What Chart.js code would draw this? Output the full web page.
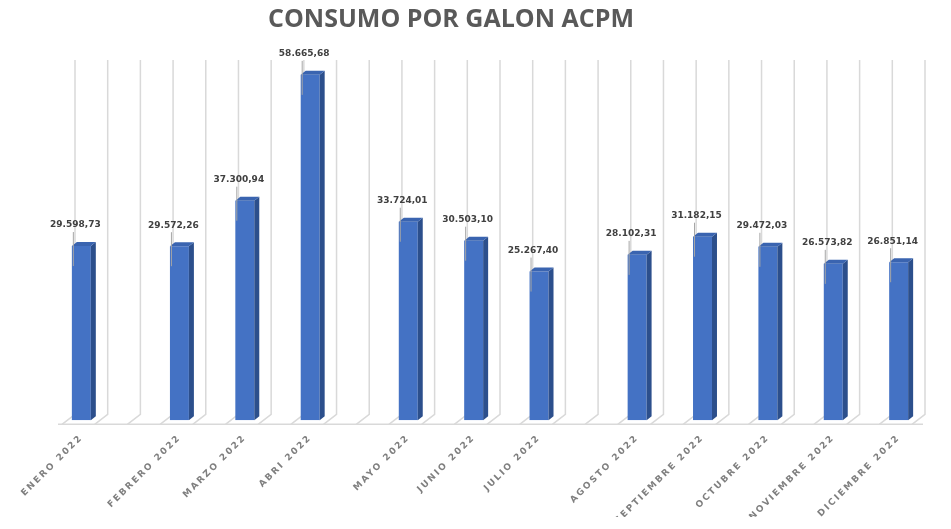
<!DOCTYPE html>
<html>
<head>
<meta charset="utf-8">
<title>Consumo por galon ACPM</title>
<script src="https://cdn.jsdelivr.net/npm/chart.js@4.4.1/dist/chart.umd.min.js"></script>
<style>
  html, body { margin: 0; padding: 0; background: #ffffff; }
  #chart { display: block; }
</style>
</head>
<body>
<canvas id="chart" width="951" height="529"></canvas>
<script>
const chartTitle = "CONSUMO POR GALON ACPM";

// blank slots are the empty rows of the source sheet
const months = [
  "ENERO 2022", "", "", "FEBRERO 2022", "", "MARZO 2022", "", "ABRI 2022", "", "",
  "MAYO 2022", "", "JUNIO 2022", "", "JULIO 2022", "", "", "AGOSTO 2022", "",
  "SEPTIEMBRE 2022", "", "OCTUBRE 2022", "", "NOVIEMBRE 2022", "", "DICIEMBRE 2022"
];
const galones = [
  29598.73, null, null, 29572.26, null, 37300.94, null, 58665.68, null, null,
  33724.01, null, 30503.10, null, 25267.40, null, null, 28102.31, null,
  31182.15, null, 29472.03, null, 26573.82, null, 26851.14
];
const yMin = 0;
const yMax = 60000;

// 29598.73 -> "29.598,73"
function formatNumber(v) {
  const parts = v.toFixed(2).split(".");
  const ent = parts[0].replace(/\B(?=(\d{3})+(?!\d))/g, ".");
  return ent + "," + parts[1];
}

const canvas = document.getElementById("chart");
const ctx = canvas.getContext("2d");

// back wall gridlines + floor of the 3d look
const wallPlugin = {
  id: "wall",
  beforeDraw(chart) {
    chart.ctx.letterSpacing = "2px"; // spaced category labels
  },
  beforeDatasetsDraw(chart) {
    const { ctx, chartArea: a, scales: { x } } = chart;
    const step = x.getPixelForValue(1) - x.getPixelForValue(0);
    const start = x.getPixelForValue(0) - step / 2;
    ctx.save();
    ctx.strokeStyle = "#d9d9d9";
    ctx.lineWidth = 1.5;
    for (let i = 0; i <= months.length; i++) {
      const xb = start + i * step;
      ctx.beginPath();
      ctx.moveTo(xb + 10, a.top - 7);
      ctx.lineTo(xb + 10, a.bottom - 6);
      ctx.lineTo(xb - 3, a.bottom + 4);
      ctx.stroke();
    }
    ctx.beginPath();
    ctx.moveTo(a.left - 7, a.bottom + 4);
    ctx.lineTo(a.right + 8, a.bottom + 4);
    ctx.stroke();
    ctx.restore();
  }
};

// side and top faces, then value labels
const barPlugin = {
  id: "bars3d",
  afterDatasetsDraw(chart) {
    const ctx = chart.ctx;
    const meta = chart.getDatasetMeta(0);
    const dx = 5, dy = 4;
    ctx.save();
    ctx.letterSpacing = "0px";
    meta.data.forEach((bar, i) => {
      if (galones[i] == null) return;
      const { x, y, base, width } = bar.getProps(["x", "y", "base", "width"], true);
      const l = x - width / 2;
      const r = x + width / 2;

      ctx.fillStyle = "#2c4f8c";
      ctx.beginPath();
      ctx.moveTo(r, y);
      ctx.lineTo(r + dx, y - dy);
      ctx.lineTo(r + dx, base - dy);
      ctx.lineTo(r, base);
      ctx.closePath();
      ctx.fill();

      ctx.fillStyle = "#3a64b0";
      ctx.beginPath();
      ctx.moveTo(l, y);
      ctx.lineTo(l + dx, y - dy);
      ctx.lineTo(r + dx, y - dy);
      ctx.lineTo(r, y);
      ctx.closePath();
      ctx.fill();

      // leader line
      ctx.strokeStyle = "#a6a6a6";
      ctx.lineWidth = 1;
      ctx.beginPath();
      ctx.moveTo(x - 8, y - 14);
      ctx.lineTo(x - 8, y + 20);
      ctx.stroke();

      ctx.fillStyle = "#404040";
      ctx.font = "bold 9px 'DejaVu Sans'";
      ctx.textAlign = "center";
      ctx.textBaseline = "middle";
      ctx.fillText(formatNumber(galones[i]), x - 6, y - 21);
    });
    ctx.restore();
  },
  afterDraw(chart) {
    const ctx = chart.ctx;
    ctx.save();
    ctx.letterSpacing = "0px";
    ctx.fillStyle = "#595959";
    ctx.font = "bold 25px 'Open Sans'";
    ctx.textAlign = "center";
    ctx.textBaseline = "middle";
    ctx.fillText(chartTitle, 451, 20);
    ctx.restore();
  }
};

new Chart(ctx, {
  type: "bar",
  data: {
    labels: months,
    datasets: [{
      data: galones,
      backgroundColor: "#4472c4",
      borderWidth: 0,
      barPercentage: 0.58,
      categoryPercentage: 1.0
    }]
  },
  options: {
    responsive: false,
    animation: false,
    layout: { padding: { top: 67, left: 65, right: 36, bottom: 12 } },
    plugins: {
      legend: { display: false },
      title: { display: false },
      tooltip: { enabled: false }
    },
    scales: {
      x: {
        grid: { display: false, drawTicks: false },
        border: { display: false },
        ticks: {
          autoSkip: false,
          maxRotation: 45,
          minRotation: 45,
          padding: 12,
          color: "#7f7f7f",
          font: { family: "'DejaVu Sans'", size: 9, weight: "bold" }
        }
      },
      y: {
        display: false,
        min: yMin,
        max: yMax
      }
    }
  },
  plugins: [wallPlugin, barPlugin]
});
</script>
</body>
</html>
